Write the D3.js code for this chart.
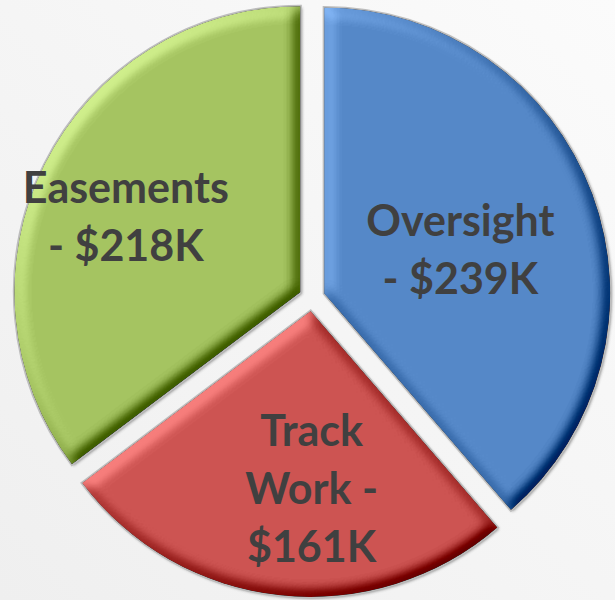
<!DOCTYPE html>
<html>
<head>
<meta charset="utf-8">
<script src="https://cdn.jsdelivr.net/npm/d3@7"></script>
<style>
  body { margin: 0; background: #f4f4f4; }
  svg { display: block; }
</style>
</head>
<body>
<div id="chart"></div>
<script>
// slices, clockwise from 12 o'clock
var categories = ['Oversight', 'Track Work', 'Easements'];
var amounts = [239, 161, 218];
var labelLines = [['Oversight', '- $239K'], ['Track', 'Work -', '$161K'], ['Easements', '- $218K']];

// styles + layout
var colors = ['#5588c8', '#cd5452', '#a5c461'];
var w = 615, h = 600;
var cx = 312, cy = 298;
var radius = 286;
var explode = 13;
var labelR = [156, 191, 203];
var labelTurn = [2.4, -6, -3]; // degrees off the slice mid angle
var lineH = 58;

var svg = d3.select('#chart')
  .append('svg')
  .attr('width', w)
  .attr('height', h);

var defs = svg.append('defs');

// page background
var bg = defs.append('linearGradient')
  .attr('id', 'bg')
  .attr('x1', '100%').attr('y1', '0%')
  .attr('x2', '0%').attr('y2', '100%');
bg.append('stop').attr('offset', '0%').attr('stop-color', '#fbfbfb');
bg.append('stop').attr('offset', '100%').attr('stop-color', '#efefef');

svg.append('rect')
  .attr('width', w)
  .attr('height', h)
  .attr('fill', 'url(#bg)');

// bevel: light a blurred alpha and add it on top of the fill
var bevel = defs.append('filter')
  .attr('id', 'bevel')
  .attr('color-interpolation-filters', 'sRGB');
bevel.append('feGaussianBlur')
  .attr('in', 'SourceAlpha')
  .attr('stdDeviation', 7)
  .attr('result', 'blur');
bevel.append('feDiffuseLighting')
  .attr('in', 'blur')
  .attr('surfaceScale', 9)
  .attr('diffuseConstant', 0.707)
  .attr('lighting-color', '#fff')
  .attr('result', 'light')
  .append('feDistantLight')
  .attr('azimuth', 225)
  .attr('elevation', 45);
bevel.append('feComposite')
  .attr('in', 'SourceGraphic')
  .attr('in2', 'light')
  .attr('operator', 'arithmetic')
  .attr('k1', 0).attr('k2', 1).attr('k3', 0.8).attr('k4', -0.4)
  .attr('result', 'lit');
bevel.append('feComposite')
  .attr('in', 'lit')
  .attr('in2', 'SourceAlpha')
  .attr('operator', 'in');

// soft drop shadow under each slice
var shadow = defs.append('filter').attr('id', 'shadow');
shadow.append('feGaussianBlur').attr('stdDeviation', 1.5);

var pie = d3.pie().sort(null).value(function (d) { return d; });
var arcs = pie(amounts);

var arc = d3.arc()
  .innerRadius(0)
  .outerRadius(radius);

var slices = svg.selectAll('g.slice')
  .data(arcs)
  .enter()
  .append('g')
  .attr('class', 'slice')
  .attr('transform', function (d) {
    var mid = (d.startAngle + d.endAngle) / 2;
    var p = d3.pointRadial(mid, explode);
    return 'translate(' + (cx + p[0]) + ',' + (cy + p[1]) + ')';
  });

slices.append('path')
  .attr('d', arc)
  .attr('fill', '#3a3a3a')
  .attr('opacity', 0.6)
  .attr('transform', 'translate(1.5,1.5)')
  .attr('filter', 'url(#shadow)');

slices.append('path')
  .attr('d', arc)
  .attr('fill', 'none')
  .attr('stroke', '#bdbdbd')
  .attr('stroke-width', 3);

slices.append('path')
  .attr('d', arc)
  .attr('fill', function (d, i) { return colors[i]; })
  .attr('filter', 'url(#bevel)');

// labels
var labels = svg.selectAll('text.label')
  .data(arcs)
  .enter()
  .append('text')
  .attr('class', 'label')
  .attr('text-anchor', 'middle')
  .attr('font-family', 'Lato, "Open Sans", sans-serif')
  .attr('font-weight', 'bold')
  .attr('font-size', 43)
  .attr('fill', '#404040')
  .attr('transform', function (d, i) {
    var mid = (d.startAngle + d.endAngle) / 2 + labelTurn[i] * Math.PI / 180;
    var p = d3.pointRadial(mid, labelR[i]);
    return 'translate(' + (cx + p[0]) + ',' + (cy + p[1]) + ')';
  });

labels.selectAll('tspan')
  .data(function (d, i) { return labelLines[i]; })
  .enter()
  .append('tspan')
  .attr('x', 0)
  .attr('y', function (t, j, nodes) {
    var n = nodes.length;
    return (j - (n - 1) / 2) * lineH + 15;
  })
  .text(function (t) { return t; });
</script>
</body>
</html>
